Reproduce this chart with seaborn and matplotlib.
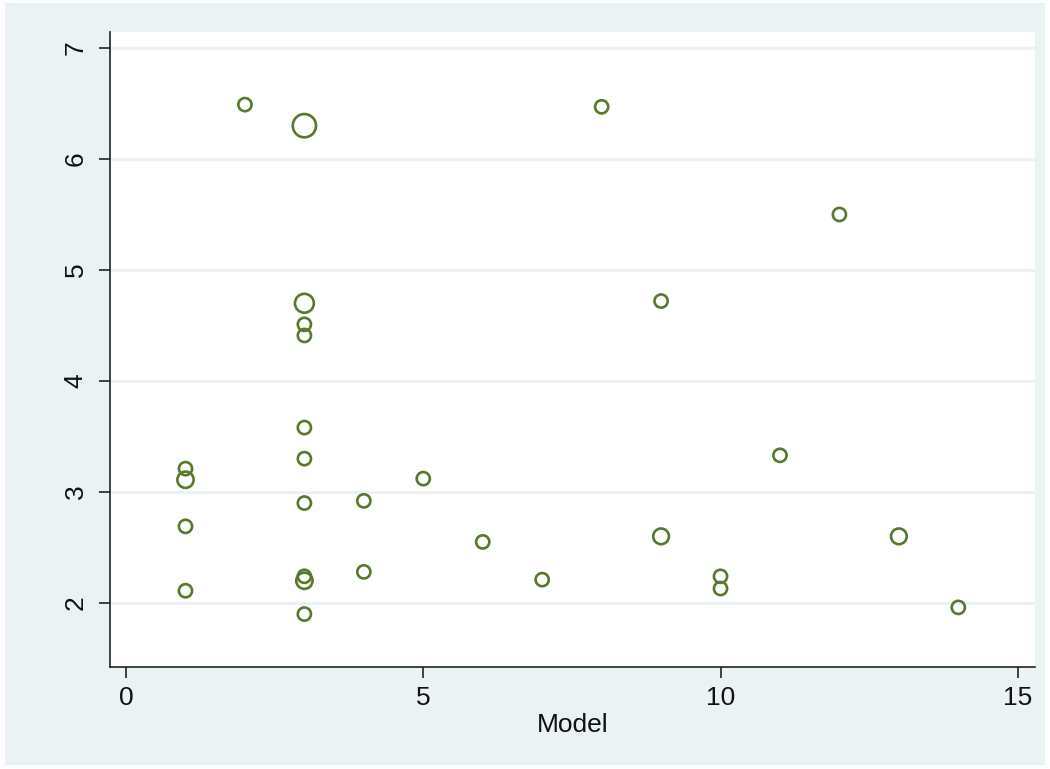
import matplotlib
matplotlib.use("Agg")
import matplotlib.pyplot as plt
import seaborn as sns
import pandas as pd
from matplotlib.patches import Rectangle

# Observations: model number, measured value and frequency weight
model = [1, 1, 1, 1,
         2,
         3, 3, 3, 3, 3, 3, 3, 3, 3, 3,
         4, 4,
         5, 6, 7, 8,
         9, 9,
         10, 10,
         11, 12, 13, 14]
value = [3.21, 3.11, 2.69, 2.11,
         6.49,
         6.30, 4.70, 4.51, 4.41, 3.58, 3.30, 2.90, 2.24, 2.20, 1.90,
         2.92, 2.28,
         3.12, 2.55, 2.21, 6.47,
         4.72, 2.60,
         2.24, 2.13,
         3.33, 5.50, 2.60, 1.96]
weight = [1, 1.5, 1, 1,
          1,
          3, 2, 1, 1, 1, 1, 1, 1, 1.5, 1,
          1, 1,
          1, 1, 1, 1,
          1, 1.4,
          1, 1,
          1, 1, 1.4, 1]

x_ticks = [0, 5, 10, 15]
y_ticks = [2, 3, 4, 5, 6, 7]

df = pd.DataFrame({"Model": model, "value": value, "weight": weight})

sns.set_style("white")
plt.rcParams["font.family"] = ["Liberation Sans", "DejaVu Sans"]

fig = plt.figure(figsize=(10.5, 7.69), dpi=100, facecolor="white")
# Light backdrop panel behind the plot region
fig.patches.append(Rectangle((5 / 1050, 4 / 769), 1040 / 1050, 762 / 769,
                             transform=fig.transFigure, facecolor="#EAF2F3",
                             edgecolor="none", zorder=-1))

ax = fig.add_axes([110 / 1050, 1 - 667 / 769, 925 / 1050, 635 / 769])
ax.set_facecolor("white")

green = "#57792C"
sns.scatterplot(data=df, x="Model", y="value", size="weight",
                sizes=(90, 280), size_norm=(1, 3), legend=False,
                facecolors="none", edgecolor=green, linewidth=1.9,
                marker="o", ax=ax, zorder=3)

ax.set_xlim(-0.27, 15.29)
ax.set_ylim(1.423, 7.144)
ax.set_xticks(x_ticks)
ax.set_yticks(y_ticks)
ax.set_xticklabels([str(t) for t in x_ticks])
ax.set_yticklabels([str(t) for t in y_ticks], rotation=90, va="center")

for t in y_ticks:
    ax.axhline(t, color="#EAF2F3", linewidth=2.2, zorder=1)

for side in ["top", "right"]:
    ax.spines[side].set_visible(False)
for side in ["left", "bottom"]:
    ax.spines[side].set_color("#222222")
    ax.spines[side].set_linewidth(1.2)

ax.tick_params(axis="both", which="major", direction="out", length=8,
               width=1.2, color="#222222", labelsize=19, labelcolor="#111111",
               left=True, bottom=True)
ax.tick_params(axis="x", pad=6)
ax.tick_params(axis="y", pad=8)

ax.set_xlabel("Model", fontsize=19, color="#111111", labelpad=2)
ax.set_ylabel("")

fig.savefig("out.png", dpi=100, facecolor="white")
